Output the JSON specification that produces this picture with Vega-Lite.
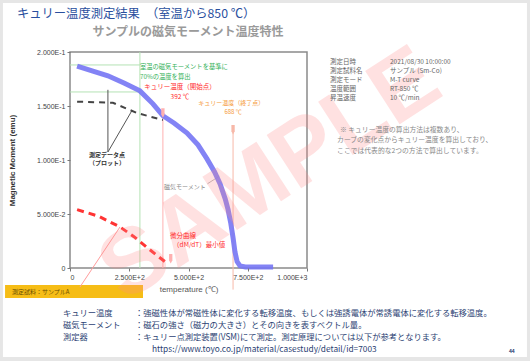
{
  "$schema": "https://vega.github.io/schema/vega-lite/v6.json",
  "width": 237,
  "height": 216,
  "autosize": "none",
  "padding": {"left": 70, "top": 52, "right": 223, "bottom": 93},
  "background": "#e6e6e6",
  "config": {
    "view": {"stroke": null},
    "font": "Noto Sans CJK JP",
    "axis": {"grid": false, "domain": false, "labelFont": "Liberation Sans", "titleFont": "Liberation Sans", "labelColor": "#444", "titleColor": "#333", "tickColor": "#777", "labelFontSize": 7, "titleFontSize": 8, "tickSize": 3, "labelPadding": 2}
  },
  "datasets": {
    "curves": [
      {"s": "M", "t": 30, "m": 0.187}, {"s": "M", "t": 100, "m": 0.182}, {"s": "M", "t": 160, "m": 0.178}, {"s": "M", "t": 230, "m": 0.171}, {"s": "M", "t": 295, "m": 0.164}, {"s": "M", "t": 350, "m": 0.152}, {"s": "M", "t": 392, "m": 0.141}, {"s": "M", "t": 440, "m": 0.134}, {"s": "M", "t": 494, "m": 0.125}, {"s": "M", "t": 540, "m": 0.114}, {"s": "M", "t": 578, "m": 0.101}, {"s": "M", "t": 610, "m": 0.089}, {"s": "M", "t": 633, "m": 0.078}, {"s": "M", "t": 655, "m": 0.064}, {"s": "M", "t": 667, "m": 0.054}, {"s": "M", "t": 678, "m": 0.042}, {"s": "M", "t": 688, "m": 0.028}, {"s": "M", "t": 696, "m": 0.015}, {"s": "M", "t": 705, "m": 0.006}, {"s": "M", "t": 717, "m": 0.002}, {"s": "M", "t": 740, "m": 0.001}, {"s": "M", "t": 800, "m": 0.001}, {"s": "M", "t": 857, "m": 0.001},
      {"s": "P", "t": 30, "m": 0.154}, {"s": "P", "t": 181, "m": 0.153}, {"s": "P", "t": 283, "m": 0.1435}, {"s": "P", "t": 392, "m": 0.137},
      {"s": "D", "t": 30, "m": 0.054}, {"s": "D", "t": 120, "m": 0.048}, {"s": "D", "t": 211, "m": 0.038}, {"s": "D", "t": 270, "m": 0.029}, {"s": "D", "t": 325, "m": 0.019}, {"s": "D", "t": 365, "m": 0.012}, {"s": "D", "t": 400, "m": 0.006}
    ],
    "guides": [
      {"k": "green", "x": 295, "y": 0, "x2": 295, "y2": 0.2},
      {"k": "green", "x": 0, "y": 0.163, "x2": 295, "y2": 0.163},
      {"k": "green", "x": 0, "y": 0.188, "x2": 295, "y2": 0.188},
      {"k": "red", "x": 392, "y": 0, "x2": 392, "y2": 0.14},
      {"k": "orange", "x": 688, "y": -0.02, "x2": 688, "y2": 0.125},
      {"k": "black", "x": 160, "y": 0.1074, "x2": 160, "y2": 0.165},
      {"k": "black", "x": 160, "y": 0.1074, "x2": 262, "y2": 0.146},
      {"k": "redline", "x": 211, "y": 0.038, "x2": 42, "y2": -0.0176},
      {"k": "gray", "x": 580, "y": 0.078, "x2": 630, "y2": 0.085}
    ],
    "marks": [
      {"k": "red", "t": 392, "m": 0.1435},
      {"k": "red", "t": 425, "m": 0.0085},
      {"k": "orange", "t": 688, "m": 0.128}
    ],
    "labels": [
      {"g": "title", "x": -224, "y": 0.2352, "text": "キュリー温度測定結果　（室温から850 ℃）"},
      {"g": "ctitle", "x": 498, "y": 0.2185, "text": "サンプルの磁気モーメント温度特性"},
      {"g": "green", "x": 295, "y": 0.186, "text": "室温の磁気モーメントを基準に"},
      {"g": "green", "x": 295, "y": 0.177, "text": "70%の温度を算出"},
      {"g": "red", "x": 464, "y": 0.1676, "text": "キュリー温度（開始点）"},
      {"g": "red", "x": 464, "y": 0.158, "text": "392 ℃"},
      {"g": "orange", "x": 680, "y": 0.1525, "text": "キュリー温度（終了点）"},
      {"g": "orange", "x": 688, "y": 0.144, "text": "688 ℃"},
      {"g": "black", "x": 156, "y": 0.1046, "text": "測定データ点"},
      {"g": "black", "x": 156, "y": 0.0972, "text": "（プロット）"},
      {"g": "gray", "x": 485, "y": 0.075, "text": "磁気モーメント"},
      {"g": "redb", "x": 422, "y": 0.0296, "text": "微分曲線"},
      {"g": "redb", "x": 435, "y": 0.0213, "text": "（dM/dT）最小値"},
      {"g": "table", "x": 1097, "y": 0.1907, "text": "測定日時"},
      {"g": "table", "x": 1097, "y": 0.1824, "text": "測定試料名"},
      {"g": "table", "x": 1097, "y": 0.1741, "text": "測定モード"},
      {"g": "table", "x": 1097, "y": 0.1657, "text": "温度範囲"},
      {"g": "table", "x": 1097, "y": 0.1574, "text": "昇温速度"},
      {"g": "table", "x": 1350, "y": 0.1907, "text": "2021/08/30 10:00:00"},
      {"g": "table", "x": 1350, "y": 0.1824, "text": "サンプル (Sm-Co)"},
      {"g": "table", "x": 1350, "y": 0.1741, "text": "M-T curve"},
      {"g": "table", "x": 1350, "y": 0.1657, "text": "RT-850 ℃"},
      {"g": "table", "x": 1350, "y": 0.1574, "text": "10 ℃/min"},
      {"g": "note", "x": 1139, "y": 0.1278, "text": "※ キュリー温度の算出方法は複数あり、"},
      {"g": "note", "x": 1127, "y": 0.1185, "text": "カーブの変化点からキュリー温度を算出しており、"},
      {"g": "note", "x": 1127, "y": 0.1083, "text": "ここでは代表的な2つの方法で算出しています。"},
      {"g": "foot", "x": -30, "y": -0.0426, "text": "キュリー温度"},
      {"g": "foot", "x": 274, "y": -0.0426, "text": "：強磁性体が常磁性体に変化する転移温度、もしくは強誘電体が常誘電体に変化する転移温度。"},
      {"g": "foot", "x": -30, "y": -0.0537, "text": "磁気モーメント"},
      {"g": "foot", "x": 274, "y": -0.0537, "text": "：磁石の強さ（磁力の大きさ）とその向きを表すベクトル量。"},
      {"g": "foot", "x": -30, "y": -0.0648, "text": "測定器"},
      {"g": "foot", "x": 274, "y": -0.0648, "text": "：キュリー点測定装置(VSM)にて測定。測定原理については以下が参考となります。"},
      {"g": "foot", "x": 346, "y": -0.0759, "text": "https://www.toyo.co.jp/material/casestudy/detail/id=7003"},
      {"g": "page", "x": 1852, "y": -0.0769, "text": "44"},
      {"g": "bar", "x": -245, "y": -0.0218, "text": "測定試料：サンプルA"}
    ]
  },
  "layer": [
    {
      "data": {"values": [{"x": -283, "x2": 1928, "y": 0.2454, "y2": -0.0824}]},
      "mark": {"type": "rect", "fill": "white"},
      "encoding": {
        "x": {"field": "x", "type": "quantitative", "scale": {"domain": [0, 1000], "nice": false, "zero": false}, "axis": {"zindex": 2, "title": "temperature (℃)", "titleFontWeight": "normal", "titleColor": "#555", "values": [0, 250, 500, 750, 1000], "labelExpr": "datum.value == 0 ? '0' : upper(format(datum.value, '.3e'))", "titlePadding": 5}},
        "x2": {"field": "x2"},
        "y": {"field": "y", "type": "quantitative", "scale": {"domain": [0, 0.2], "nice": false, "zero": false}, "axis": {"zindex": 2, "title": "Magnetic Moment (emu)", "values": [0, 0.05, 0.1, 0.15, 0.2], "labelExpr": "datum.value == 0 ? '0' : upper(format(datum.value, '.3e'))", "titlePadding": 20, "titleFontWeight": "bold"}},
        "y2": {"field": "y2"}
      }
    },
    {
      "data": {"values": [{"x": -274, "x2": 308, "y": -0.0157, "y2": -0.0278}]},
      "mark": {"type": "rect", "fill": "#f6bd16"},
      "encoding": {"x": {"field": "x", "type": "quantitative"}, "x2": {"field": "x2"}, "y": {"field": "y", "type": "quantitative"}, "y2": {"field": "y2"}}
    },
    {
      "data": {"values": [{"x": 0, "x2": 1000, "y": 0, "y2": 0.2}]},
      "mark": {"type": "rect", "fill": null, "stroke": "#8a8a8a", "strokeWidth": 1.5},
      "encoding": {"x": {"field": "x", "type": "quantitative"}, "x2": {"field": "x2"}, "y": {"field": "y", "type": "quantitative"}, "y2": {"field": "y2"}}
    },
    {
      "data": {"name": "guides"},
      "mark": {"type": "rule", "strokeWidth": 1},
      "encoding": {
        "x": {"field": "x", "type": "quantitative"}, "x2": {"field": "x2"},
        "y": {"field": "y", "type": "quantitative"}, "y2": {"field": "y2"},
        "color": {"field": "k", "type": "nominal", "legend": null, "scale": {"domain": ["green", "red", "orange", "black", "redline", "gray"], "range": ["#b4e2b4", "#ffb0b0", "#f7b8a8", "#555555", "#ff9c9c", "#b8b8b8"]}}
      }
    },
    {
      "data": {"name": "curves"},
      "transform": [{"filter": "datum.s == 'M'"}],
      "mark": {"type": "line", "color": "#7676f4", "strokeWidth": 5, "opacity": 0.9},
      "encoding": {"x": {"field": "t", "type": "quantitative"}, "y": {"field": "m", "type": "quantitative"}}
    },
    {
      "data": {"name": "curves"},
      "transform": [{"filter": "datum.s == 'P'"}],
      "mark": {"type": "line", "color": "#444444", "strokeWidth": 2, "strokeDash": [6, 5]},
      "encoding": {"x": {"field": "t", "type": "quantitative"}, "y": {"field": "m", "type": "quantitative"}}
    },
    {
      "data": {"name": "curves"},
      "transform": [{"filter": "datum.s == 'D'"}],
      "mark": {"type": "line", "color": "#ff3434", "strokeWidth": 3, "strokeDash": [7, 5]},
      "encoding": {"x": {"field": "t", "type": "quantitative"}, "y": {"field": "m", "type": "quantitative"}}
    },
    {
      "data": {"name": "marks"},
      "mark": {"type": "point", "filled": true, "opacity": 1, "size": 90, "shape": "M-0.35,-1L0.35,-1L0.35,0.3L0,1L-0.35,0.3Z"},
      "encoding": {
        "x": {"field": "t", "type": "quantitative"}, "y": {"field": "m", "type": "quantitative"},
        "color": {"field": "k", "type": "nominal", "legend": null, "scale": {"domain": ["red", "orange"], "range": ["#ff1f1f", "#f5a24e"]}}
      }
    },
    {
      "data": {"values": [{"x": 844, "y": 0.0861, "text": "SAMPLE"}]},
      "mark": {"type": "text", "font": "Liberation Sans", "fontWeight": "bold", "fontSize": 92, "angle": -33, "color": "#ff8a8a", "opacity": 0.25, "align": "center", "baseline": "middle"},
      "encoding": {"x": {"field": "x", "type": "quantitative"}, "y": {"field": "y", "type": "quantitative"}, "text": {"field": "text"}}
    },
    {
      "data": {"name": "labels"}, "transform": [{"filter": "datum.g == 'title'"}],
      "mark": {"type": "text", "align": "left", "baseline": "middle", "fontSize": 12.3, "color": "#2a4f9e"},
      "encoding": {"x": {"field": "x", "type": "quantitative"}, "y": {"field": "y", "type": "quantitative"}, "text": {"field": "text"}}
    },
    {
      "data": {"name": "labels"}, "transform": [{"filter": "datum.g == 'ctitle'"}],
      "mark": {"type": "text", "align": "center", "baseline": "middle", "fontSize": 12, "fontWeight": "bold", "color": "#9a9a9a"},
      "encoding": {"x": {"field": "x", "type": "quantitative"}, "y": {"field": "y", "type": "quantitative"}, "text": {"field": "text"}}
    },
    {
      "data": {"name": "labels"}, "transform": [{"filter": "datum.g == 'green'"}],
      "mark": {"type": "text", "align": "left", "baseline": "middle", "fontSize": 6.3, "color": "#34b15a"},
      "encoding": {"x": {"field": "x", "type": "quantitative"}, "y": {"field": "y", "type": "quantitative"}, "text": {"field": "text"}}
    },
    {
      "data": {"name": "labels"}, "transform": [{"filter": "datum.g == 'red'"}],
      "mark": {"type": "text", "align": "center", "baseline": "middle", "fontSize": 6.5, "color": "#ff2a2a"},
      "encoding": {"x": {"field": "x", "type": "quantitative"}, "y": {"field": "y", "type": "quantitative"}, "text": {"field": "text"}}
    },
    {
      "data": {"name": "labels"}, "transform": [{"filter": "datum.g == 'orange'"}],
      "mark": {"type": "text", "align": "center", "baseline": "middle", "fontSize": 6, "color": "#f59a3a"},
      "encoding": {"x": {"field": "x", "type": "quantitative"}, "y": {"field": "y", "type": "quantitative"}, "text": {"field": "text"}}
    },
    {
      "data": {"name": "labels"}, "transform": [{"filter": "datum.g == 'black'"}],
      "mark": {"type": "text", "align": "center", "baseline": "middle", "fontSize": 6, "fontWeight": "bold", "color": "#333"},
      "encoding": {"x": {"field": "x", "type": "quantitative"}, "y": {"field": "y", "type": "quantitative"}, "text": {"field": "text"}}
    },
    {
      "data": {"name": "labels"}, "transform": [{"filter": "datum.g == 'gray'"}],
      "mark": {"type": "text", "align": "center", "baseline": "middle", "fontSize": 6, "color": "#888"},
      "encoding": {"x": {"field": "x", "type": "quantitative"}, "y": {"field": "y", "type": "quantitative"}, "text": {"field": "text"}}
    },
    {
      "data": {"name": "labels"}, "transform": [{"filter": "datum.g == 'redb'"}],
      "mark": {"type": "text", "align": "left", "baseline": "middle", "fontSize": 6.5, "color": "#ff2a2a"},
      "encoding": {"x": {"field": "x", "type": "quantitative"}, "y": {"field": "y", "type": "quantitative"}, "text": {"field": "text"}}
    },
    {
      "data": {"name": "labels"}, "transform": [{"filter": "datum.g == 'table'"}],
      "mark": {"type": "text", "align": "left", "baseline": "middle", "fontSize": 6.5, "color": "#666"},
      "encoding": {"x": {"field": "x", "type": "quantitative"}, "y": {"field": "y", "type": "quantitative"}, "text": {"field": "text"}}
    },
    {
      "data": {"name": "labels"}, "transform": [{"filter": "datum.g == 'note'"}],
      "mark": {"type": "text", "align": "left", "baseline": "middle", "fontSize": 6.8, "color": "#888"},
      "encoding": {"x": {"field": "x", "type": "quantitative"}, "y": {"field": "y", "type": "quantitative"}, "text": {"field": "text"}}
    },
    {
      "data": {"name": "labels"}, "transform": [{"filter": "datum.g == 'foot'"}],
      "mark": {"type": "text", "align": "left", "baseline": "middle", "fontSize": 8.3, "color": "#2c3f73"},
      "encoding": {"x": {"field": "x", "type": "quantitative"}, "y": {"field": "y", "type": "quantitative"}, "text": {"field": "text"}}
    },
    {
      "data": {"name": "labels"}, "transform": [{"filter": "datum.g == 'page'"}],
      "mark": {"type": "text", "align": "left", "baseline": "middle", "fontSize": 5, "fontWeight": "bold", "color": "#2c3f73"},
      "encoding": {"x": {"field": "x", "type": "quantitative"}, "y": {"field": "y", "type": "quantitative"}, "text": {"field": "text"}}
    },
    {
      "data": {"name": "labels"}, "transform": [{"filter": "datum.g == 'bar'"}],
      "mark": {"type": "text", "align": "left", "baseline": "middle", "fontSize": 6, "color": "#6b4e00"},
      "encoding": {"x": {"field": "x", "type": "quantitative"}, "y": {"field": "y", "type": "quantitative"}, "text": {"field": "text"}}
    }
  ]
}
